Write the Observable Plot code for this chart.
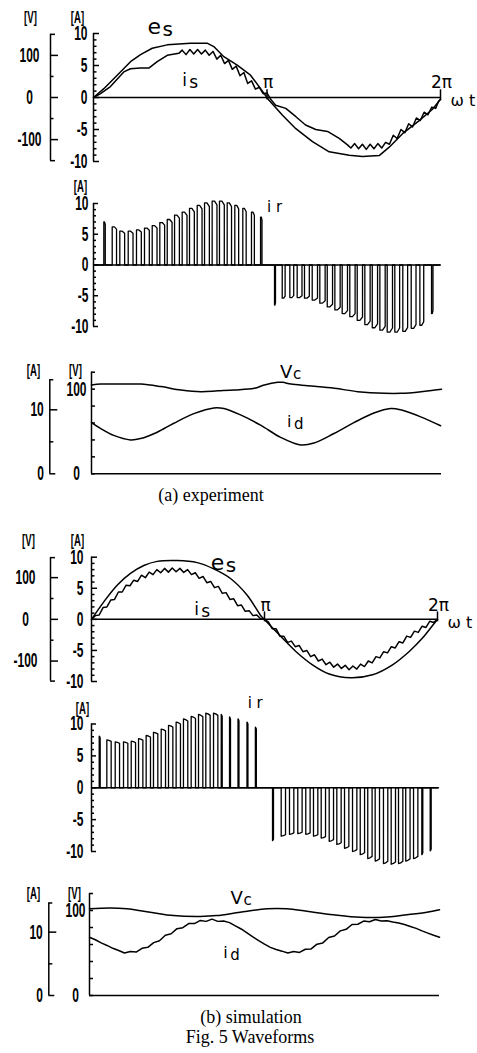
<!DOCTYPE html>
<html><head><meta charset="utf-8">
<script src="https://cdn.jsdelivr.net/npm/d3@7"></script>
<script src="https://cdn.jsdelivr.net/npm/@observablehq/plot@0.6"></script>
<style>
body{margin:0;background:#fff;}
#fig{position:relative;width:477px;height:1053px;background:#fff;overflow:hidden;}
.cap{position:absolute;font-family:"Liberation Serif","Times New Roman",serif;font-size:18px;color:#000;transform:translate(-50%,-50%);white-space:nowrap;line-height:1;}
</style></head>
<body><div id="fig"></div>
<script>
// ---------- (a) experiment ----------
const esExpDeg = [0,10.7,24.6,38.4,48.8,60.9,76.5,100.6,117.9,124.8,135.2,149.1,162.9,173.3,181.9,196.1,209.9,227.2,244.5,265.3,279.1,296.4,306.8,320.6,337.9,351.7,360];
const esExpV   = [0,21,53,85,102,117,125,129,129,121,97,77,53,21,-6,-42,-74,-105,-129,-137,-140,-138,-118,-86,-55,-28,-4];
const isExpDeg = [0,7.3,17.6,31.4,38.4,48.8,57.4,66.1,76.5,88.5,92,96,100,104,108,112,116,120,124,128,132,136,140,144,148,152,156,160,164,168,172,176,180,184,189,199.5,210,220,230.6,242.8,254.9,263.5,267,271,275,279,283,287,291,295,299,303,307,311,315,319,323,327,331,335,339,343,347,351,355,358,360];
const isExpA   = [0,0.6,1.7,4.0,4.5,4.6,4.6,5.6,6.6,6.9,7.4,6.7,7.5,6.8,7.5,6.8,7.4,6.6,7.2,6.0,6.6,5.3,5.8,4.4,4.9,3.4,3.9,2.2,2.6,1.3,1.6,0.6,0.7,-0.3,-1.2,-1.7,-3.0,-4.3,-5.0,-5.3,-6.4,-7.4,-7.9,-7.2,-8.0,-7.3,-8.1,-7.3,-8.0,-7.2,-7.9,-7.0,-7.3,-5.9,-6.4,-5.0,-5.5,-4.1,-4.6,-3.2,-3.6,-2.3,-2.7,-1.5,-1.7,-0.6,-0.3];
const irExpPosStart = [10.7,19.4,27.3,36.0,44.6,52.9,60.9,68.8,76.5,84.1,92.0,99.6,107.6,115.2,123.1,130.7,138.7,146.6,154.9,163.9,173.3];
const irExpPosPeak  = [7.0,6.2,5.5,5.5,5.7,6.0,6.4,6.9,7.4,8.1,8.6,9.2,9.7,10.1,10.4,10.4,10.1,9.7,9.2,8.6,7.8];
const irExpPosWidth = [1.5,4.5,5,5,5,5,5,5,5,5,5,5,5,5,5,5,4.5,4,3.5,3,1.5];
const irExpNegStart = [187.8,195.8,203.7,211.3,218.9,226.9,234.8,242.5,250.4,258.0,265.9,273.6,281.5,289.2,297.1,304.7,312.6,320.9,329.6,338.6,350.7];
const irExpNegPeak  = [-6.5,-5.4,-5.3,-5.3,-5.4,-5.7,-6.2,-6.8,-7.3,-7.9,-8.4,-9.0,-9.7,-10.2,-10.6,-10.9,-10.9,-10.8,-10.3,-9.8,-7.9];
const irExpNegWidth = [1,3,4,5,5,5.5,5.5,5.5,5.5,5.5,5.5,5.5,5.5,5.5,5.5,5.5,5,5,5,4,1.5];
const vcExpDeg = [0,9.6,33.6,50.8,71.5,92.1,112.6,129.8,146.9,167.5,177.8,191.5,196.7,205.2,222.4,249.8,273.9,301.3,318.5,339.1,360];
const vcExpV   = [105,106,106,106,103,99,97,98,99,101,105,108,108,106,104,101,97,95,95,97,100];
const idExpDeg = [0,9.2,22.9,40.1,50.4,67.6,84.7,105.3,125.9,136.2,153.3,173.9,194.5,215.1,228.8,249.4,269.9,290.5,307.7,318.0,338.6,359.1];
const idExpA   = [8.0,7.1,6.0,5.3,5.5,6.5,7.9,9.4,10.3,10.2,9.2,7.6,5.7,4.5,4.8,6.3,8.0,9.5,10.2,10.0,8.9,7.5];

// ---------- (b) simulation ----------
const esSimDeg = [0,12.8,26.7,40.6,54.4,68.3,89.1,110.0,127.2,144.6,162.0,175.8,179.7,195.3,212.6,229.9,247.3,269.8,292.4,313.2,330.6,344.4,358.2,360];
const esSimV   = [0,42,82,110,129,139,141,136,121,98,58,10,0,-37,-77,-109,-131,-140,-133,-109,-77,-45,-5,0];
const isSimDeg = [0,4,8,12,16,20,24,28,32,36,40,44,48,52,56,60,64,68,72,76,80,84,88,92,96,100,104,108,112,116,120,124,128,132,136,140,144,148,152,156,160,164,168,172,176,180,184,188,192,196,200,204,208,212,216,220,224,228,232,236,240,244,248,252,256,260,264,268,272,276,280,284,288,292,296,300,304,308,312,316,320,324,328,332,336,340,344,348,352,356,360];
const isSimA   = [0,0.6,0.7,1.9,2.0,3.1,3.2,4.4,4.4,5.5,5.4,6.3,6.1,7.1,6.7,7.6,7.2,8.0,7.5,8.2,7.6,8.25,7.65,8.2,7.55,8.0,7.2,7.5,6.6,6.9,5.9,6.1,5.1,5.3,4.2,4.3,3.2,3.3,2.2,2.3,1.3,1.4,0.6,0.7,0.1,0,
  -0.4,-1.5,-1.5,-2.7,-2.7,-3.7,-3.5,-4.4,-4.2,-5.2,-5.0,-6.0,-5.7,-6.7,-6.4,-7.3,-6.9,-7.7,-7.2,-7.9,-7.4,-8.1,-7.5,-8.0,-7.2,-7.6,-6.7,-7.0,-6.0,-6.2,-5.2,-5.4,-4.4,-4.6,-3.6,-3.8,-2.7,-2.9,-1.9,-2.1,-1.1,-1.3,-0.3,-0.5,0];
const irSimPosStart = [8.0,15.9,24.6,33.2,41.2,48.8,56.7,64.3,72.3,79.9,87.8,95.4,103.4,111.0,118.6,126.6,134.6,143.2,152.0,161.3,170.0];
const irSimPosPeak  = [8.1,7.5,7.2,7.2,7.3,7.7,8.2,8.7,9.2,9.8,10.3,10.8,11.2,11.5,11.7,11.7,11.5,11.1,10.8,10.3,9.5];
const irSimPosWidth = [1,4.5,4.5,4.5,4.5,4.5,4.5,4.5,4.5,4.5,4.5,4.5,4.5,4.5,4.5,4.5,1,1,1,1,1];
const irSimNegStart = [187.8,196.8,205.4,214.0,222.3,230.3,238.3,246.6,254.5,262.5,270.8,278.8,286.6,294.3,302.9,310.9,318.5,326.0,334.1,342.7,351.4];
const irSimNegPeak  = [-8.3,-7.6,-7.3,-7.2,-7.3,-7.6,-7.9,-8.4,-8.9,-9.5,-10.0,-10.5,-11.1,-11.5,-11.9,-12.0,-11.9,-11.5,-11.1,-10.5,-9.9];
const irSimNegWidth = [1,4.5,4.5,4.5,4.5,4.5,4.5,4.5,4.5,4.5,4.5,4.5,4.5,4.5,4.5,4.5,4.5,4.5,4.5,1,1];
const vcSimDeg = [0,21.3,38.4,62.4,86.4,113.8,131.0,155.0,182.5,203.0,223.6,251.0,278.5,302.4,326.5,347.0,360];
const vcSimV   = [102,103,102,98,94,93,94,98,102,102,99,95,92,92,95,98,101];
const idSimDeg = [0,6,12,18,24,30,36,42,48,54,60,66,72,78,84,90,96,102,108,114,120,126,132,138,144,150,156,162,168,174,180,186,192,198,204,210,216,222,228,234,240,246,252,258,264,270,276,282,288,294,300,306,312,318,324,330,336,342,348,354,360];
const idSimA   = [9.2,8.8,8.3,7.9,7.45,7.1,6.7,6.95,6.85,7.45,7.6,8.35,8.65,9.5,9.75,10.55,10.7,11.35,11.35,11.85,11.7,12.05,11.7,11.75,11.5,11.0,10.5,9.9,9.25,8.65,8.1,7.6,7.25,7.0,6.7,6.95,6.8,7.3,7.35,8.1,8.3,9.15,9.4,10.2,10.45,11.2,11.25,11.75,11.65,12.0,11.75,11.8,11.6,11.45,11.2,10.9,10.6,10.2,9.85,9.5,9.2];

// ---------- axes / labels ----------
const aMajor = [-10,-5,0,5,10];
const aMinor = [-9,-8,-7,-6,-4,-3,-2,-1,1,2,3,4,6,7,8,9];
const vMajor = [-100,0,100];
const vMinor = [-50,50];
const vcTicks = [0,20,40,60,80,100,120];
const vcLabels = [0,100];
const idLabels = [0,10];
const piTicks = [180,360];
const piLabels = ["π","2π"];
const captions = ["(a) experiment","(b) simulation","Fig. 5 Waveforms"];

// ---------- helpers ----------
const W = 477, SW = 1.5;
const TF = '"Liberation Sans","DejaVu Sans",sans-serif';
const LF = '"DejaVu Sans","Liberation Sans",sans-serif';
const fig = document.getElementById("fig");

function make(top, height, mt, mb, ml, mr, ydom, marks) {
  const svg = Plot.plot({
    width: W, height, marginTop: mt, marginBottom: mb, marginLeft: ml, marginRight: mr,
    x: {domain: [0, 360], axis: null},
    y: {domain: ydom, axis: null},
    style: {background: "transparent", overflow: "visible", fontFamily: TF, fontSize: "20px", color: "#000"},
    marks
  });
  svg.style.position = "absolute"; svg.style.left = "0px"; svg.style.top = top + "px";
  // condensed look for tick labels and unit labels (texts without their own font-family)
  svg.querySelectorAll("text").forEach(t => {
    const g = t.parentNode.closest("[font-family]");
    if (!g || g === svg) {
      const tr = t.getAttribute("transform") || "";
      t.setAttribute("transform", tr + " scale(0.6,1)");
      t.setAttribute("font-weight", "bold");
    }
  });
  fig.appendChild(svg);
}
const tickR = (vals, len, dx = 0) => Plot.axisY(vals, {anchor: "left", tickSize: len, dx: dx + len, tickFormat: () => "", label: null, strokeWidth: SW});
const tickTxt = (vals, pad, dx = 0, anchor = "end") => Plot.axisY(vals, {anchor: "left", tickSize: 0, tickPadding: pad, dx, textAnchor: anchor, tickFormat: d => String(d), label: null});
const vline = (y1, y2, dx = 0) => Plot.ruleX([0], {y1, y2, dx, strokeWidth: SW});
const unit = (t, dx, dy) => Plot.text([t], {frameAnchor: "top-left", dx, dy, text: d => d, fontSize: 16, textAnchor: "middle"});
const lbl = (t, x, y, size, o = {}) => Plot.text([t], {x, y, text: d => d, fontSize: size, fontFamily: LF, textAnchor: "start", ...o});
const line = (xs, ys, o = {}) => Plot.line(ys, {x: xs, y: ys, stroke: "#000", strokeWidth: SW, ...o});

function pulses(start, peak, width, shape) {
  const pts = [{d: 0, a: 0}];
  start.forEach((s, i) => {
    const p = peak[i], w = width[i];
    pts.push({d: s, a: 0}, {d: s, a: p}, {d: s + w * 0.5, a: p * (shape ? 1 : 0.99)}, {d: s + w, a: p * (shape ? 0.94 : 0.97)}, {d: s + w, a: 0});
  });
  pts.push({d: 360, a: 0});
  return pts;
}
const irExp = pulses(irExpPosStart.concat(irExpNegStart), irExpPosPeak.concat(irExpNegPeak), irExpPosWidth.concat(irExpNegWidth), true);
const irSim = pulses(irSimPosStart.concat(irSimNegStart), irSimPosPeak.concat(irSimNegPeak), irSimPosWidth.concat(irSimNegWidth), false);

function piMarks(yl) {
  return [
    Plot.ruleX(piTicks, {y1: -0.4, y2: 1.2, strokeWidth: SW}),
    Plot.text(piLabels, {x: piTicks, y: yl, text: d => d, fontSize: 17, fontFamily: LF, textAnchor: "middle", dx: 1}),
    lbl("ω t", 360, -0.6, 16, {dx: 10})
  ];
}

// ===== (a) es / is =====
make(0, 175, 33, 14, 93, 37, [-10, 10], [
  Plot.ruleY([0], {strokeWidth: SW}),
  vline(-10, 10),
  tickR(aMajor, 6), tickR(aMinor, 3.5),
  tickTxt(aMajor, 6),
  ...piMarks(2.4),
  line(isExpDeg, isExpA),
  unit("[A]", -16, -22),
  lbl("i", 92, 2.6, 17), lbl("s", 92, 2.6, 17, {dx: 7, dy: 2})
]);
make(0, 175, 33, 14, 93, 37, [-152, 152], [
  vline(-150, 150, -43),
  tickR([-150, 150], 5, -43), tickR(vMajor, 8, -43), tickR(vMinor, 3.5, -43),
  tickTxt(vMajor, 21, -43, "middle"),
  line(esExpDeg, esExpV),
  unit("[V]", -63, -22),
  lbl("e", 56, 168, 22), lbl("s", 56, 168, 20, {dx: 15, dy: 3})
]);

// ===== (a) ir =====
make(180, 160, 23, 14, 93, 37, [-10, 10], [
  Plot.ruleY([0], {strokeWidth: SW}),
  vline(-10, 10),
  tickR(aMajor, 5), tickR(aMinor, 3),
  tickTxt(aMajor, 5),
  Plot.line(irExp, {x: "d", y: "a", stroke: "#000", strokeWidth: 1.3}),
  unit("[A]", -13, -23),
  lbl("i r", 180, 9.4, 15)
]);

// ===== (a) Vc / id =====
make(350, 135, 21.7, 11.7, 91, 36, [0, 120], [
  Plot.ruleY([0], {strokeWidth: SW}),
  vline(0, 120),
  tickR(vcTicks, 4),
  tickTxt(vcLabels, 15, 0, "middle"),
  line(vcExpDeg, vcExpV, {curve: "catmull-rom"}),
  unit("[V]", -16, -8),
  lbl("V", 194, 120, 18), lbl("c", 194, 120, 15, {dx: 13, dy: 2})
]);
make(350, 135, 21.7, 11.7, 91, 36, [0, 15.875], [
  vline(0, 14.7, -41.7),
  tickR([0], 6, -41.7), tickR([14.7], 4, -41.7), tickR([10], 8, -41.7), tickR([5], 4, -41.7),
  tickTxt(idLabels, 6, -41.7),
  line(idExpDeg, idExpA, {curve: "catmull-rom"}),
  unit("[A]", -58, -8),
  lbl("i", 201, 8.1, 16), lbl("d", 201, 8.1, 15, {dx: 7, dy: 2})
]);

// ===== (b) es / is =====
make(525, 170, 31.7, 14, 91, 40, [-10, 10], [
  Plot.ruleY([0], {strokeWidth: SW}),
  vline(-10, 10),
  tickR(aMajor, 6), tickR(aMinor, 3.5),
  tickTxt(aMajor, 8),
  ...piMarks(2.3),
  line(isSimDeg, isSimA),
  unit("[A]", -14, -23),
  lbl("i", 107, 1.5, 17), lbl("s", 107, 1.5, 17, {dx: 7, dy: 2})
]);
make(525, 170, 31.7, 14, 91, 40, [-149, 149], [
  vline(-148, 148, -41),
  tickR([-148, 148], 5, -41), tickR(vMajor, 8, -41), tickR(vMinor, 3.5, -41),
  tickTxt(vMajor, 25, -41, "middle"),
  line(esSimDeg, esSimV, {curve: "catmull-rom"}),
  unit("[V]", -63, -23),
  lbl("e", 124, 135, 22), lbl("s", 124, 135, 20, {dx: 15, dy: 3})
]);

// ===== (b) ir =====
make(700, 165, 23.5, 14, 91, 39, [-10, 10], [
  Plot.ruleY([0], {strokeWidth: SW}),
  vline(-10, 10),
  tickR(aMajor, 5), tickR(aMinor, 3),
  tickTxt(aMajor, 8),
  Plot.line(irSim, {x: "d", y: "a", stroke: "#000", strokeWidth: 1.3}),
  unit("[A]", -9, -21),
  lbl("i r", 162, 13.2, 15)
]);

// ===== (b) Vc / id =====
make(870, 140, 23, 15, 89, 38, [0, 120], [
  Plot.ruleY([0], {strokeWidth: SW}),
  vline(0, 120),
  tickR(vcTicks, 4),
  tickTxt(vcLabels, 14, 0, "middle"),
  line(vcSimDeg, vcSimV, {curve: "catmull-rom"}),
  unit("[V]", -15, -6),
  lbl("V", 145, 115, 18), lbl("c", 145, 115, 15, {dx: 13, dy: 2})
]);
make(870, 140, 23, 15, 89, 38, [0, 16.1], [
  vline(0, 14.6, -40.7),
  tickR([0], 6, -40.7), tickR([14.6], 4, -40.7), tickR([10], 8, -40.7), tickR([5], 4, -40.7),
  tickTxt(idLabels, 6, -40.7),
  line(idSimDeg, idSimA),
  unit("[A]", -56, -6),
  lbl("i", 137.5, 6.8, 16), lbl("d", 137.5, 6.8, 15, {dx: 7, dy: 3})
]);

// captions
const capPos = [[211, 495], [251, 1017], [250, 1037]];
captions.forEach((t, i) => {
  const d = document.createElement("div");
  d.className = "cap"; d.textContent = t;
  d.style.left = capPos[i][0] + "px"; d.style.top = capPos[i][1] + "px";
  fig.appendChild(d);
});
</script></body></html>
